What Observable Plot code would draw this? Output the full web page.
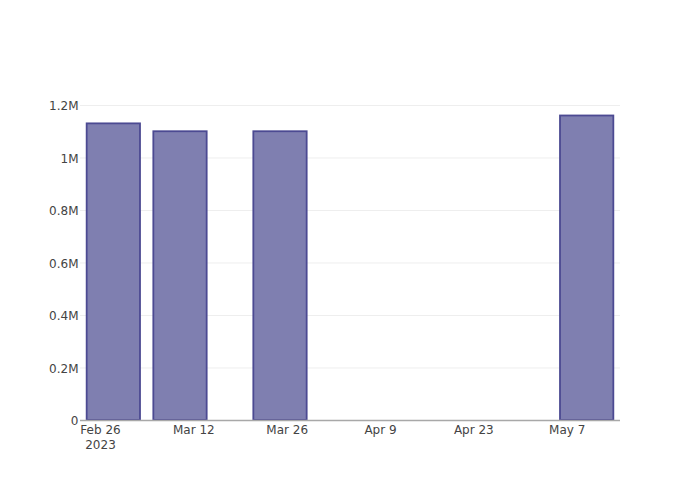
<!DOCTYPE html>
<html>
<head>
<meta charset="utf-8">
<script src="https://cdn.jsdelivr.net/npm/d3@7"></script>
<script src="https://cdn.jsdelivr.net/npm/@observablehq/plot@0.6"></script>
<style>
  html, body { margin: 0; padding: 0; background: white; }
</style>
</head>
<body>
<div id="chart"></div>
<script>
const dates = ["2023-02-28", "2023-03-10", "2023-03-25", "2023-05-10"];
const values = [1130000, 1100000, 1100000, 1160000];
const xTickDates = ["2023-02-26", "2023-03-12", "2023-03-26", "2023-04-09", "2023-04-23", "2023-05-07"];
const xTickLabels = ["Feb 26\n2023", "Mar 12", "Mar 26", "Apr 9", "Apr 23", "May 7"];
const yTicks = [0, 200000, 400000, 600000, 800000, 1000000, 1200000];
const yTickLabels = ["0", "0.2M", "0.4M", "0.6M", "0.8M", "1M", "1.2M"];
const xDomain = ["2023-02-23", "2023-05-15"];
const yDomain = [0, 1219000];

const data = dates.map((d, i) => ({ date: new Date(d + "T00:00:00Z"), value: values[i] }));
// Bar width = 0.8 of the smallest gap between dates (Plotly's rule)
const gaps = data.slice(1).map((d, i) => d.date - data[i].date);
const half = d3.min(gaps) * 0.4;
const tickDates = xTickDates.map(d => new Date(d + "T00:00:00Z"));

const chart = Plot.plot({
  width: 700,
  height: 500,
  marginTop: 100,
  marginBottom: 80,
  marginLeft: 80,
  marginRight: 80,
  style: { fontFamily: "DejaVu Sans", fontSize: "12px", color: "#444", background: "white" },
  x: { type: "utc", domain: xDomain.map(d => new Date(d + "T00:00:00Z")) },
  y: { domain: yDomain },
  marks: [
    Plot.gridY(yTicks.filter(v => v > 0), { stroke: "#eeeeee", strokeOpacity: 1, strokeWidth: 1 }),
    Plot.rectY(data, {
      x1: d => new Date(+d.date - half),
      x2: d => new Date(+d.date + half),
      y: "value",
      fill: "#7f7fb0",
      stroke: "#4c4a92",
      strokeWidth: 1.8
    }),
    Plot.ruleY([0], { stroke: "#a8a8a8", strokeWidth: 1.5 }),
    Plot.axisY({
      ticks: yTicks,
      tickFormat: d => yTickLabels[yTicks.indexOf(d)],
      tickSize: 0,
      tickPadding: 2,
      dy: 1,
      label: null,
      fill: "#444"
    }),
    Plot.axisX({
      ticks: tickDates,
      tickFormat: d => xTickLabels[tickDates.findIndex(t => +t === +d)],
      tickSize: 0,
      tickPadding: 3,
      lineHeight: 1.25,
      label: null,
      fill: "#444"
    })
  ]
});
document.getElementById("chart").appendChild(chart);
</script>
</body>
</html>
